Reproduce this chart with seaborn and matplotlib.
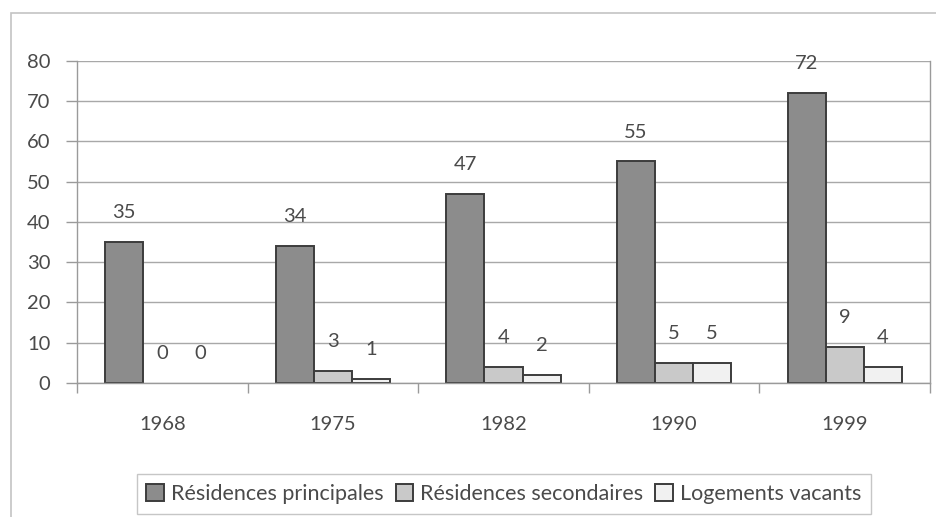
import matplotlib
matplotlib.use("Agg")
import matplotlib.pyplot as plt
import seaborn as sns
import pandas as pd
from matplotlib.patches import Rectangle

years = ["1968", "1975", "1982", "1990", "1999"]
principales = [35, 34, 47, 55, 72]
secondaires = [0, 3, 4, 5, 9]
vacants = [0, 1, 2, 5, 4]
series_names = ["Résidences principales", "Résidences secondaires", "Logements vacants"]
y_ticks = [0, 10, 20, 30, 40, 50, 60, 70, 80]

df = pd.DataFrame({
    "annee": years * 3,
    "serie": [series_names[0]] * 5 + [series_names[1]] * 5 + [series_names[2]] * 5,
    "valeur": principales + secondaires + vacants,
})

sns.set_theme(style="white")
plt.rcParams["font.family"] = ["Lato", "DejaVu Sans"]

text_col = "#4a4a4a"
grid_col = "#a8a8a8"
edge_col = "#3c3c3c"
palette = {series_names[0]: "#8c8c8c", series_names[1]: "#c9c9c9", series_names[2]: "#f1f1f1"}
fs = 14.5

fig = plt.figure(figsize=(9.36, 5.17), dpi=100)
ax = fig.add_axes([77 / 936, 1 - 383 / 517, (930 - 77) / 936, (383 - 60.7) / 517])

sns.barplot(data=df, x="annee", y="valeur", hue="serie", order=years,
            hue_order=series_names, palette=palette, width=0.67,
            edgecolor=edge_col, linewidth=1.4, saturation=1, ax=ax, legend=True)

# empty bars leave no outline on the baseline
for cont in ax.containers:
    for p in cont.patches:
        if p.get_height() == 0:
            p.set_linewidth(0)

ax.set_ylim(0, 80)
ax.set_xlim(-0.5, 4.5)
ax.set_yticks(y_ticks)
ax.set_xlabel("")
ax.set_ylabel("")
ax.yaxis.grid(True, color=grid_col, linewidth=1)
ax.set_axisbelow(True)
for sp in ax.spines.values():
    sp.set_color("#9a9a9a")
    sp.set_linewidth(1)
ax.spines["top"].set_visible(False)

ax.tick_params(axis="y", length=8, width=1, color="#9a9a9a", labelsize=fs,
               labelcolor=text_col, pad=11, left=True)
ax.tick_params(axis="x", which="major", length=0, labelsize=fs,
               labelcolor=text_col, pad=24)
ax.set_xticks([i - 0.5 for i in range(len(years) + 1)], minor=True)
ax.tick_params(axis="x", which="minor", length=7, width=1, color="#9a9a9a", bottom=True)

for cont in ax.containers:
    ax.bar_label(cont, fmt="%d", padding=15, fontsize=fs, color=text_col)

leg = ax.legend(loc="center", bbox_to_anchor=(504 / 936, 1 - 494 / 517),
                bbox_transform=fig.transFigure, ncol=3, frameon=True, fancybox=False,
                fontsize=15.5, handlelength=0.8, handleheight=0.8, handletextpad=0.35,
                columnspacing=0.55, borderpad=0.45, borderaxespad=0)
leg.get_frame().set_edgecolor("#b8b8b8")
leg.get_frame().set_linewidth(1)
for h in leg.legend_handles:
    h.set_edgecolor(edge_col)
    h.set_linewidth(1.4)
for t in leg.get_texts():
    t.set_color(text_col)

# chart border
fig.add_artist(Rectangle((11 / 936, -0.05), 1.0, 1 - 13 / 517 + 0.05,
                         transform=fig.transFigure, fill=False,
                         edgecolor="#c4c4c4", linewidth=1.2))

fig.savefig("out.png", dpi=100)
